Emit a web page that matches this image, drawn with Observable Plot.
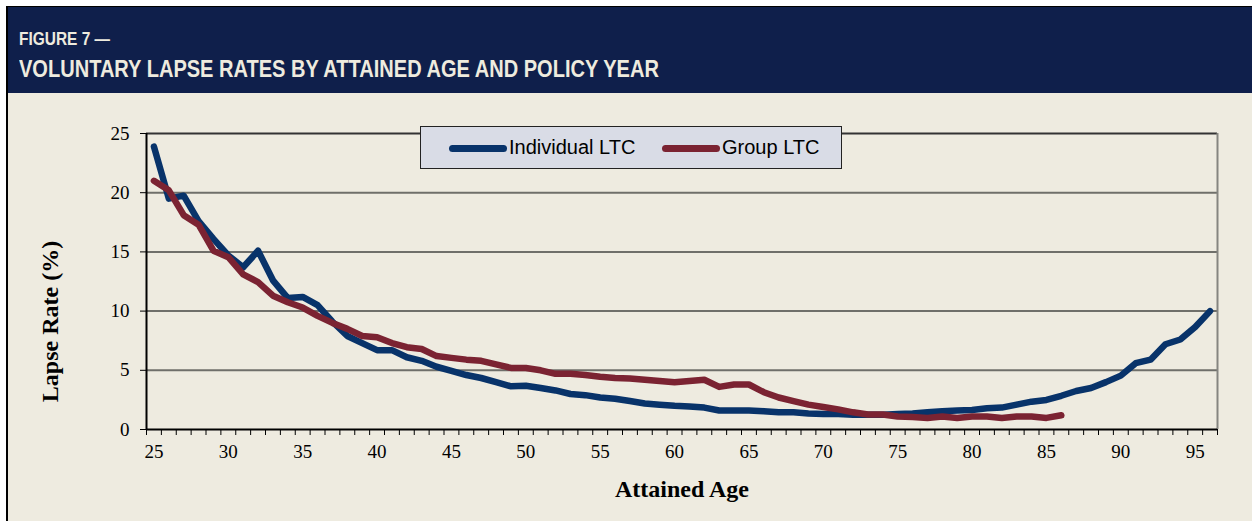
<!DOCTYPE html>
<html><head><meta charset="utf-8">
<script src="https://cdn.jsdelivr.net/npm/d3@7"></script>
<script src="https://cdn.jsdelivr.net/npm/@observablehq/plot@0.6"></script>
<style>
html,body{margin:0;padding:0;background:#fff;}
#wrap{position:relative;width:1252px;height:521px;overflow:hidden;background:#fff;}
#border{position:absolute;left:6px;top:6px;width:2px;height:515px;background:#000;}
#header{position:absolute;left:6px;top:6px;width:1246px;height:87px;background:#0f1f4b;border-top:1px solid #000;box-sizing:border-box;}
#panel{position:absolute;left:8px;top:93px;width:1244px;height:428px;background:#eeebe0;}
.htxt{position:absolute;left:13px;color:#eeebdf;font-family:"Liberation Sans Narrow","Arial Narrow","Liberation Sans",sans-serif;font-weight:bold;line-height:1;white-space:nowrap;transform-origin:0 0;transform:scaleX(0.835);}
#fig{top:23px;font-size:18.5px;}
#title{top:50px;font-size:24px;}
#chart{position:absolute;left:8px;top:93px;}
#legend{position:absolute;left:420px;top:126px;width:422px;height:43px;box-sizing:border-box;background:#d9dce6;border:1px solid #222;font-family:"Liberation Sans",Arial,sans-serif;font-size:20px;color:#000;}
.sw{position:absolute;top:18px;width:58px;height:7px;border-radius:4px;}
.lt{position:absolute;top:10px;line-height:1;white-space:nowrap;}
</style>
</head><body>
<div id="wrap">
  <div id="panel"></div>
  <div id="header"><div id="fig" class="htxt">FIGURE 7 —</div><div id="title" class="htxt">VOLUNTARY LAPSE RATES BY ATTAINED AGE AND POLICY YEAR</div></div>
  <div id="border"></div>
  <div id="chart"></div>
  <div id="legend"></div>
</div>
<script>
const ages = [25,26,27,28,29,30,31,32,33,34,35,36,37,38,39,40,41,42,43,44,45,46,47,48,49,50,51,52,53,54,55,56,57,58,59,60,61,62,63,64,65,66,67,68,69,70,71,72,73,74,75,76,77,78,79,80,81,82,83,84,85,86,87,88,89,90,91,92,93,94,95,96];
const individualLTC = [23.9,19.5,19.75,17.6,16.1,14.7,13.7,15.1,12.6,11.1,
  11.2,10.5,9.1,7.9,7.3,6.7,6.7,6.1,5.8,5.3,
  4.95,4.6,4.35,4.0,3.65,3.7,3.5,3.3,3.0,2.9,
  2.7,2.6,2.4,2.2,2.1,2.0,1.95,1.85,1.6,1.6,
  1.6,1.55,1.45,1.45,1.35,1.3,1.3,1.25,1.25,1.25,
  1.3,1.35,1.45,1.55,1.6,1.65,1.8,1.85,2.1,2.35,
  2.5,2.85,3.25,3.5,4.0,4.55,5.6,5.9,7.2,7.6,
  8.65,10.0];
const groupLTC = [21.0,20.2,18.1,17.3,15.1,14.55,13.1,12.45,11.3,10.75,
  10.3,9.6,9.0,8.5,7.9,7.8,7.3,6.95,6.8,6.2,
  6.05,5.9,5.8,5.5,5.2,5.2,5.0,4.7,4.7,4.6,
  4.45,4.35,4.3,4.2,4.1,4.0,4.1,4.2,3.6,3.8,
  3.8,3.15,2.7,2.4,2.1,1.9,1.7,1.45,1.27,1.27,
  1.1,1.05,0.98,1.1,0.98,1.1,1.1,0.98,1.1,1.1,
  0.98,1.2];
const seriesNames = ["Individual LTC","Group LTC"];
const seriesColors = ["#08336a","#7b2332"];
const xTicks = [25,30,35,40,45,50,55,60,65,70,75,80,85,90,95];
const yTicks = [0,5,10,15,20,25];
const yLabel = "Lapse Rate (%)";
const xLabel = "Attained Age";

const rows = [];
individualLTC.forEach((v,i)=>rows.push({age:ages[i], rate:v, series:seriesNames[0]}));
groupLTC.forEach((v,i)=>rows.push({age:ages[i], rate:v, series:seriesNames[1]}));
const xMin = ages[0]-0.5, xMax = ages[ages.length-1]+0.5;
const catEdges = d3.range(xMin, xMax+0.01, 1);
const serif = "'Liberation Serif','Times New Roman',serif";

const chart = Plot.plot({
  width:1244, height:428,
  marginLeft:138, marginRight:35, marginTop:40, marginBottom:92,
  x:{domain:[xMin,xMax]},
  y:{domain:[yTicks[0], yTicks[yTicks.length-1]]},
  color:{domain:seriesNames, range:seriesColors},
  style:{background:"transparent", fontFamily:serif, fontSize:"19px", color:"#000", overflow:"visible"},
  marks:[
    Plot.ruleY(yTicks.slice(1,-1), {stroke:"#6f6f6a", strokeWidth:2}),
    Plot.ruleY([yTicks[yTicks.length-1]], {stroke:"#333", strokeWidth:2}),
    Plot.ruleX([xMax], {stroke:"#858580", strokeWidth:2}),
    Plot.axisY({ticks:yTicks, tickSize:6, tickPadding:11, tickFormat:d=>String(d), label:null, stroke:"#000"}),
    Plot.axisX({ticks:catEdges, tickSize:6, tickFormat:()=>"", label:null, stroke:"#000"}),
    Plot.axisX({ticks:xTicks, tickSize:0, tickPadding:15, tickFormat:d=>String(d), label:null}),
    Plot.ruleX([xMin], {stroke:"#000", strokeWidth:2}),
    Plot.ruleY([yTicks[0]], {stroke:"#000", strokeWidth:2}),
    Plot.line(rows, {x:"age", y:"rate", z:"series", stroke:"series", strokeWidth:6.5, strokeLinecap:"round", strokeLinejoin:"round"}),
    Plot.text([yLabel], {frameAnchor:"left", textAnchor:"middle", lineAnchor:"middle", dx:-96, dy:40, rotate:-90, fontWeight:"bold", fontSize:24, fontFamily:serif, fill:"#000"}),
    Plot.text([xLabel], {frameAnchor:"bottom", textAnchor:"middle", lineAnchor:"middle", dy:60, fontWeight:"bold", fontSize:24, fontFamily:serif, fill:"#000"})
  ]
});
document.getElementById("chart").appendChild(chart);

const leg = document.getElementById("legend");
const legPos = [[28,88],[241,301]];
seriesNames.forEach((name,i)=>{
  const sw = document.createElement("div");
  sw.className="sw"; sw.style.left=legPos[i][0]+"px"; sw.style.background=seriesColors[i];
  leg.appendChild(sw);
  const t = document.createElement("div");
  t.className="lt"; t.style.left=legPos[i][1]+"px"; t.textContent=name;
  leg.appendChild(t);
});
</script>
</body></html>
